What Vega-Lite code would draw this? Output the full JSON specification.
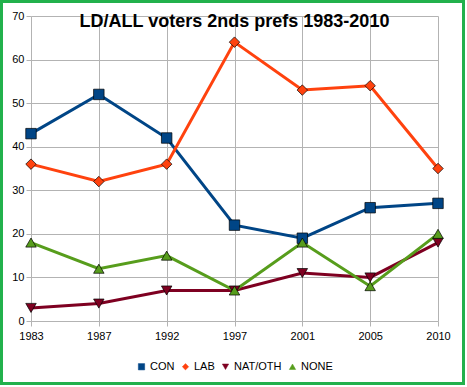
{
  "$schema": "https://vega.github.io/schema/vega-lite/v6.json",
  "width": 407,
  "height": 305,
  "autosize": {"type": "none"},
  "padding": {"left": 31, "top": 16, "right": 29, "bottom": 66},
  "background": "white",
  "title": {
    "text": "LD/ALL voters 2nds prefs 1983-2010",
    "font": "Liberation Sans",
    "fontSize": 18,
    "fontWeight": "bold",
    "color": "black",
    "anchor": "middle",
    "frame": "group",
    "baseline": "alphabetic",
    "offset": -45
  },
  "config": {
    "font": "Liberation Sans",
    "view": {"stroke": null},
    "legend": {"layout": {"bottom": {"anchor": "middle"}}},
    "axis": {
      "labelFont": "Liberation Sans",
      "labelFontSize": 11,
      "labelColor": "black",
      "gridColor": "#b3b3b3",
      "gridWidth": 1,
      "gridOpacity": 1,
      "tickColor": "#b3b3b3",
      "tickSize": 5,
      "domain": false,
      "title": null
    }
  },
  "data": {
    "values": [
      {"year": "1983", "party": "CON", "value": 43},
      {"year": "1987", "party": "CON", "value": 52},
      {"year": "1992", "party": "CON", "value": 42},
      {"year": "1997", "party": "CON", "value": 22},
      {"year": "2001", "party": "CON", "value": 19},
      {"year": "2005", "party": "CON", "value": 26},
      {"year": "2010", "party": "CON", "value": 27},
      {"year": "1983", "party": "LAB", "value": 36},
      {"year": "1987", "party": "LAB", "value": 32},
      {"year": "1992", "party": "LAB", "value": 36},
      {"year": "1997", "party": "LAB", "value": 64},
      {"year": "2001", "party": "LAB", "value": 53},
      {"year": "2005", "party": "LAB", "value": 54},
      {"year": "2010", "party": "LAB", "value": 35},
      {"year": "1983", "party": "NAT/OTH", "value": 3},
      {"year": "1987", "party": "NAT/OTH", "value": 4},
      {"year": "1992", "party": "NAT/OTH", "value": 7},
      {"year": "1997", "party": "NAT/OTH", "value": 7},
      {"year": "2001", "party": "NAT/OTH", "value": 11},
      {"year": "2005", "party": "NAT/OTH", "value": 10},
      {"year": "2010", "party": "NAT/OTH", "value": 18},
      {"year": "1983", "party": "NONE", "value": 18},
      {"year": "1987", "party": "NONE", "value": 12},
      {"year": "1992", "party": "NONE", "value": 15},
      {"year": "1997", "party": "NONE", "value": 7},
      {"year": "2001", "party": "NONE", "value": 18},
      {"year": "2005", "party": "NONE", "value": 8},
      {"year": "2010", "party": "NONE", "value": 20}
    ]
  },
  "encoding": {
    "x": {
      "field": "year",
      "type": "ordinal",
      "scale": {"type": "point", "padding": 0},
      "axis": {"labelAngle": 0, "labelPadding": 4, "grid": true}
    },
    "y": {
      "field": "value",
      "type": "quantitative",
      "scale": {"domain": [0, 70], "nice": false},
      "axis": {"values": [0, 10, 20, 30, 40, 50, 60, 70], "labelPadding": 2}
    },
    "color": {
      "field": "party",
      "type": "nominal",
      "scale": {
        "domain": ["CON", "LAB", "NAT/OTH", "NONE"],
        "range": ["#004586", "#ff420e", "#7e0021", "#579d1c"]
      },
      "legend": {
        "orient": "bottom",
        "direction": "horizontal",
        "title": null,
        "labelFont": "Liberation Sans",
        "labelFontSize": 11,
        "labelColor": "black",
        "symbolSize": 40,
        "symbolStrokeWidth": 0.5,
        "labelOffset": 3,
        "columnPadding": 5,
        "offset": 20
      }
    }
  },
  "layer": [
    {
      "mark": {"type": "line", "strokeWidth": 3}
    },
    {
      "mark": {"type": "point", "filled": true, "size": 110, "opacity": 1, "stroke": "black", "strokeWidth": 0.7},
      "encoding": {
        "shape": {
          "field": "party",
          "type": "nominal",
          "scale": {
            "domain": ["CON", "LAB", "NAT/OTH", "NONE"],
            "range": ["square", "diamond", "triangle-down", "triangle-up"]
          },
          "legend": {
            "orient": "bottom",
            "direction": "horizontal",
            "title": null
          }
        }
      }
    },
    {
      "mark": {"type": "rect", "fill": null, "stroke": "#22b14c", "strokeWidth": 3},
      "encoding": {
        "x": {"value": -29.5},
        "x2": {"value": 432.5},
        "y": {"value": -14.5},
        "y2": {"value": 367.5},
        "color": {"value": null}
      }
    }
  ]
}
